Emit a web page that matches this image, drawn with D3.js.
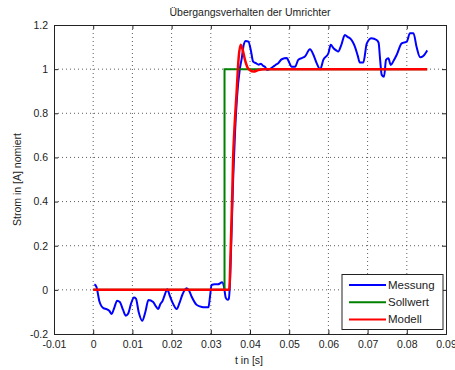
<!DOCTYPE html>
<html>
<head>
<meta charset="utf-8">
<script src="https://cdn.jsdelivr.net/npm/d3@7"></script>
<style>
  html, body { margin: 0; padding: 0; background: #fff; }
  svg { display: block; font-family: "Liberation Sans", Arial, sans-serif; }
</style>
</head>
<body>
<svg id="chart" width="455" height="370"></svg>
<script>
// Measured current (Messung): time [s] and normalised current
const messungT = [0.0003,0.0008,0.0016,0.0026,0.0035,0.0041,0.0047,0.0054,0.0061,0.0068,0.0076,0.0083,0.0089,0.0097,0.0104,0.0109,0.0116,0.0125,0.0133,0.0141,0.0153,0.0160,0.0166,0.0171,0.0177,0.0183,0.0189,0.0195,0.0203,0.0213,0.0220,0.0228,0.0238,0.0245,0.0251,0.0264,0.0272,0.0281,0.0294,0.0298,0.0302,0.0310,0.0318,0.0329,0.0334,0.0338,0.0343,0.0346,0.0349,0.0352,0.0357,0.0362,0.0367,0.0374,0.0379,0.0384,0.0389,0.0396,0.0402,0.0408,0.0415,0.0422,0.0428,0.0433,0.0438,0.0444,0.0450,0.0459,0.0466,0.0472,0.0481,0.0494,0.0500,0.0506,0.0515,0.0523,0.0532,0.0540,0.0553,0.0562,0.0570,0.0579,0.0587,0.0600,0.0606,0.0613,0.0620,0.0625,0.0633,0.0642,0.0650,0.0655,0.0668,0.0675,0.0680,0.0689,0.0698,0.0710,0.0723,0.0728,0.0732,0.0736,0.0742,0.0747,0.0753,0.0759,0.0767,0.0774,0.0787,0.0800,0.0808,0.0817,0.0825,0.0834,0.0842,0.0852];
const messungI = [0.025,0.015,-0.053,-0.083,-0.088,-0.095,-0.109,-0.08,-0.049,-0.055,-0.09,-0.117,-0.108,-0.06,-0.035,-0.04,-0.1,-0.14,-0.1,-0.046,-0.055,-0.075,-0.087,-0.065,-0.05,-0.02,0.003,-0.025,-0.06,-0.087,-0.06,-0.02,0.007,-0.005,-0.03,-0.068,-0.075,-0.079,-0.079,-0.03,0.022,0.025,0.025,0.034,0.01,-0.035,-0.045,-0.04,0.037,0.2,0.5,0.72,0.875,1.0,1.05,1.11,1.128,1.125,1.087,1.034,1.027,1.02,1.025,1.015,1.011,0.996,1.0,1.011,1.02,1.027,1.045,1.05,1.03,1.011,1.011,1.042,1.05,1.057,1.09,1.064,1.027,0.999,1.042,1.072,1.11,1.095,1.085,1.08,1.11,1.155,1.145,1.14,1.10,1.06,1.03,1.03,1.117,1.14,1.132,1.12,1.042,0.974,0.966,1.042,1.049,1.019,1.04,1.064,1.117,1.125,1.163,1.163,1.10,1.054,1.06,1.085];

// Set point (Sollwert)
const sollT = [0, 0.0335, 0.0335, 0.0852];
const sollI = [0, 0, 1, 1];

// Model response (Modell)
const modellT = [0, 0.0347, 0.0351, 0.0355, 0.0357, 0.0360, 0.0366, 0.0371, 0.0376, 0.0381, 0.0387, 0.0393, 0.0400, 0.0409, 0.0421, 0.0435, 0.0852];
const modellI = [0, 0, 0.2, 0.45, 0.6, 0.72, 0.9, 1.05, 1.11, 1.09, 1.043, 1.01, 0.995, 0.989, 0.996, 1.0, 1.0];

const xTicks = [-0.01, 0, 0.01, 0.02, 0.03, 0.04, 0.05, 0.06, 0.07, 0.08, 0.09];
const yTicks = [-0.2, 0, 0.2, 0.4, 0.6, 0.8, 1, 1.2];

const seriesNames = ["Messung", "Sollwert", "Modell"];
const seriesColors = ["#0000ff", "#008000", "#ff0000"];

const svg = d3.select("#chart");
const plotL = 54, plotR = 446, plotT = 25, plotB = 334;

const x = d3.scaleLinear().domain([-0.01, 0.09]).range([plotL, plotR]);
const y = d3.scaleLinear().domain([-0.2, 1.2]).range([plotB, plotT]);

// grid lines (dotted)
const grid = svg.append("g");
xTicks.slice(1, -1).forEach(t => {
  grid.append("line").attr("x1", x(t)).attr("x2", x(t)).attr("y1", plotT).attr("y2", plotB)
    .attr("stroke", "#333").attr("stroke-width", 0.8).attr("stroke-dasharray", "1,3");
});
yTicks.slice(1, -1).forEach(v => {
  grid.append("line").attr("x1", plotL).attr("x2", plotR).attr("y1", y(v)).attr("y2", y(v))
    .attr("stroke", "#333").attr("stroke-width", 0.8).attr("stroke-dasharray", "1,3");
});

// axes with inward ticks
const fmt = d => (d === 0 ? "0" : String(+d.toFixed(2)));
const xAxis = svg.append("g").attr("transform", `translate(0,${plotB})`)
  .call(d3.axisBottom(x).tickValues(xTicks).tickSize(-4).tickPadding(7).tickFormat(fmt));
const xAxisTop = svg.append("g").attr("transform", `translate(0,${plotT})`)
  .call(d3.axisTop(x).tickValues(xTicks).tickSize(-4).tickFormat(""));
const yAxis = svg.append("g").attr("transform", `translate(${plotL},0)`)
  .call(d3.axisLeft(y).tickValues(yTicks).tickSize(-4).tickPadding(6).tickFormat(fmt));
const yAxisRight = svg.append("g").attr("transform", `translate(${plotR},0)`)
  .call(d3.axisRight(y).tickValues(yTicks).tickSize(-4).tickFormat(""));

[xAxis, xAxisTop, yAxis, yAxisRight].forEach(g => {
  g.select(".domain").attr("stroke", "#222").attr("stroke-width", 1);
  g.selectAll(".tick line").attr("stroke", "#222");
  g.selectAll(".tick text").attr("fill", "#222").style("font-size", "10.5px")
    .style("font-family", "'Liberation Sans', Arial, sans-serif");
});

// clip
svg.append("clipPath").attr("id", "plotclip").append("rect")
  .attr("x", plotL).attr("y", plotT).attr("width", plotR - plotL).attr("height", plotB - plotT);

const plot = svg.append("g").attr("clip-path", "url(#plotclip)");
const line = d3.line().x(d => x(d[0])).y(d => y(d[1]));
const smooth = d3.line().x(d => x(d[0])).y(d => y(d[1])).curve(d3.curveMonotoneX);

const zip = (a, b) => a.map((v, i) => [v, b[i]]);

plot.append("path").datum(zip(messungT, messungI)).attr("d", smooth)
  .attr("fill", "none").attr("stroke", seriesColors[0]).attr("stroke-width", 2)
  .attr("stroke-linejoin", "round");
plot.append("path").datum(zip(sollT, sollI)).attr("d", line)
  .attr("fill", "none").attr("stroke", seriesColors[1]).attr("stroke-width", 2);
plot.append("path").datum(zip(modellT, modellI)).attr("d", smooth)
  .attr("fill", "none").attr("stroke", seriesColors[2]).attr("stroke-width", 2.5)
  .attr("stroke-linejoin", "round");

// title and labels
svg.append("text").attr("x", 250).attr("y", 16).attr("text-anchor", "middle")
  .attr("fill", "#222").style("font-size", "10.5px").text("Übergangsverhalten der Umrichter");
svg.append("text").attr("x", 249).attr("y", 364).attr("text-anchor", "middle")
  .attr("fill", "#222").style("font-size", "10.5px").text("t in [s]");
svg.append("text").attr("transform", `translate(21,${(plotT + plotB) / 2}) rotate(-90)`)
  .attr("text-anchor", "middle").attr("fill", "#222").style("font-size", "10.5px")
  .text("Strom in [A] nomiert");

// legend
const lg = svg.append("g");
lg.append("rect").attr("x", 342).attr("y", 274.5).attr("width", 101).attr("height", 55)
  .attr("fill", "#fff").attr("stroke", "#222").attr("stroke-width", 1);
seriesNames.forEach((name, i) => {
  const yy = 285 + i * 17.2;
  lg.append("line").attr("x1", 349).attr("x2", 386).attr("y1", yy).attr("y2", yy)
    .attr("stroke", seriesColors[i]).attr("stroke-width", 2);
  lg.append("text").attr("x", 388).attr("y", yy + 4).attr("fill", "#222")
    .style("font-size", "11.5px").text(name);
});
</script>
</body>
</html>
